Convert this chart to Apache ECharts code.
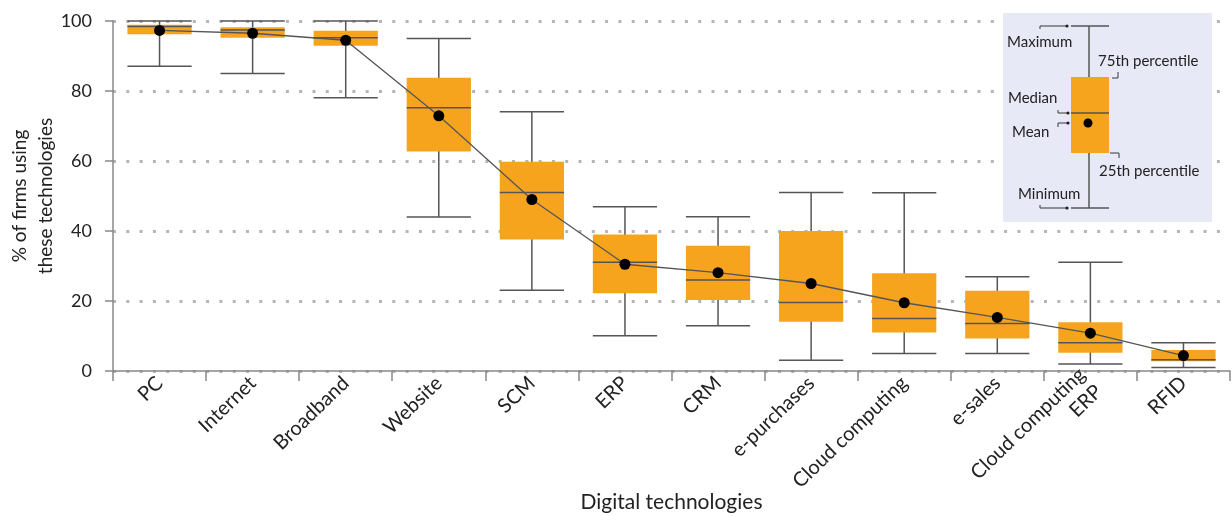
<!DOCTYPE html>
<html>
<head>
<meta charset="utf-8">
<script src="https://cdn.jsdelivr.net/npm/echarts@6/dist/echarts.min.js"></script>
<style>
html,body{margin:0;padding:0;background:#fff;}
#chart{width:1232px;height:516px;}
</style>
</head>
<body>
<div id="chart"></div>
<script>
const categories = ['PC','Internet','Broadband','Website','SCM','ERP','CRM','e-purchases','Cloud computing','e-sales','Cloud computing\nERP','RFID'];
const minVals    = [87.1, 85.0, 78.1, 44.0, 23.1, 10.1, 12.9,  3.1,  5.0,  5.0,  2.0, 1.0];
const q1Vals     = [96.2, 95.2, 92.9, 62.7, 37.6, 22.2, 20.3, 14.1, 11.0,  9.3,  5.2, 2.8];
const medianVals = [98.4, 97.4, 95.2, 75.2, 51.0, 31.1, 26.0, 19.6, 15.0, 13.6,  8.1, 3.2];
const q3Vals     = [98.9, 98.2, 97.2, 83.8, 59.8, 39.0, 35.8, 40.0, 27.9, 22.9, 13.9, 6.0];
const maxVals    = [100, 100, 100, 95.0, 74.1, 46.9, 44.1, 51.0, 50.9, 26.9, 31.1, 8.1];
const meanVals   = [97.3, 96.5, 94.5, 72.9, 49.0, 30.5, 28.1, 25.0, 19.5, 15.3, 10.8, 4.4];
const yTicks = [0, 20, 40, 60, 80, 100];

const ORANGE = '#F6A41E';
const DARK = '#555555';
const FONT = 'Lato';

const boxData = categories.map((c, i) => [i, minVals[i], q1Vals[i], medianVals[i], q3Vals[i], maxVals[i]]);

function renderBox(params, api) {
  const i = api.value(0);
  const pMin = api.coord([i, api.value(1)]);
  const pQ1 = api.coord([i, api.value(2)]);
  const pMed = api.coord([i, api.value(3)]);
  const pQ3 = api.coord([i, api.value(4)]);
  const pMax = api.coord([i, api.value(5)]);
  const cx = pMin[0];
  const w = api.size([1, 0])[0] * 0.69;
  const ls = { stroke: DARK, lineWidth: 1.5 };
  return {
    type: 'group',
    children: [
      { type: 'line', shape: { x1: cx, y1: pMax[1], x2: cx, y2: pMin[1] }, style: ls },
      { type: 'line', shape: { x1: cx - w / 2, y1: pMax[1], x2: cx + w / 2, y2: pMax[1] }, style: ls },
      { type: 'line', shape: { x1: cx - w / 2, y1: pMin[1], x2: cx + w / 2, y2: pMin[1] }, style: ls },
      { type: 'rect', shape: { x: cx - w / 2, y: pQ3[1], width: w, height: pQ1[1] - pQ3[1] }, style: { fill: ORANGE } },
      { type: 'line', shape: { x1: cx - w / 2, y1: pMed[1], x2: cx + w / 2, y2: pMed[1] }, style: ls }
    ]
  };
}

// legend key (illustrative)
const ltxt = (x, y, t) => ({ type: 'text', x: x, y: y, style: { text: t, fill: '#222', font: '15px Lato', verticalAlign: 'middle' }, z: 101 });
const lline = (x1, y1, x2, y2, w) => ({ type: 'line', shape: { x1, y1, x2, y2 }, style: { stroke: DARK, lineWidth: w || 1.2 }, z: 101 });
const ldot = (x, y, r) => ({ type: 'circle', shape: { cx: x, cy: y, r: r }, style: { fill: '#222' }, z: 102 });

const graphic = [
  { type: 'rect', shape: { x: 1003, y: 13, width: 209, height: 209 }, style: { fill: '#E7E9F6' }, z: 100 },
  lline(1089, 26, 1089, 208, 1.5),
  lline(1071, 26, 1109, 26, 1.5),
  lline(1071, 208, 1109, 208, 1.5),
  { type: 'rect', shape: { x: 1071, y: 77, width: 38, height: 76 }, style: { fill: ORANGE }, z: 101 },
  lline(1071, 113, 1109, 113, 1.5),
  { type: 'circle', shape: { cx: 1088, cy: 123, r: 4.5 }, style: { fill: '#000' }, z: 102 },
  lline(1040, 26, 1067, 26), lline(1040, 26, 1040, 29), ldot(1067, 26, 1.6),
  lline(1112, 78, 1118, 78), lline(1118, 72, 1118, 78),
  lline(1058, 110, 1058, 113), lline(1058, 113, 1068, 113), ldot(1068, 113, 1.6),
  lline(1058, 123, 1068, 123), lline(1058, 123, 1058, 127), ldot(1068, 123, 1.6),
  lline(1110, 153, 1119, 153), lline(1119, 153, 1119, 158),
  lline(1040, 208, 1067, 208), lline(1040, 205, 1040, 208), ldot(1067, 208, 1.6),
  ltxt(1007, 42, 'Maximum'),
  ltxt(1098, 61, '75th percentile'),
  ltxt(1008, 98, 'Median'),
  ltxt(1012, 132, 'Mean'),
  ltxt(1099, 171, '25th percentile'),
  ltxt(1018, 194, 'Minimum')
];

const chart = echarts.init(document.getElementById('chart'), null, { renderer: 'canvas' });
chart.setOption({
  animation: false,
  backgroundColor: '#fff',
  textStyle: { fontFamily: FONT },
  grid: { left: 113, right: 2, top: 21, bottom: 145, containLabel: false, outerBoundsMode: 'none' },
  xAxis: {
    type: 'category',
    data: categories,
    boundaryGap: true,
    name: 'Digital technologies',
    nameLocation: 'middle',
    nameGap: 121,
    nameMoveOverlap: false,
    nameTextStyle: { fontSize: 21, color: '#222', fontFamily: FONT },
    axisLine: { lineStyle: { color: '#888', width: 1.5 } },
    axisTick: { show: true, length: 10, lineStyle: { color: '#888', width: 1.5 } },
    axisLabel: { interval: 0, rotate: 44, fontSize: 20, lineHeight: 24, color: '#222', margin: 9, fontFamily: FONT }
  },
  yAxis: {
    type: 'value',
    min: yTicks[0],
    max: yTicks[yTicks.length - 1],
    interval: 20,
    name: '% of firms using\nthese technologies',
    nameLocation: 'middle',
    nameRotate: 90,
    nameGap: 54,
    nameMoveOverlap: false,
    nameTextStyle: { fontSize: 19, color: '#222', fontFamily: FONT, lineHeight: 26 },
    axisLine: { show: true, lineStyle: { color: '#888', width: 1.5 } },
    axisTick: { show: true, length: 8, lineStyle: { color: '#888', width: 1.5 } },
    axisLabel: { fontSize: 18, color: '#222', margin: 21, fontFamily: FONT },
    splitLine: {
      show: true,
      lineStyle: { color: '#b5b5b5', width: 3, type: [3, 10.3] }
    }
  },
  series: [
    {
      type: 'custom',
      renderItem: renderBox,
      data: boxData,
      encode: { x: 0, y: [1, 2, 3, 4, 5] },
      z: 2
    },
    {
      type: 'line',
      data: meanVals,
      symbol: 'circle',
      symbolSize: 11,
      itemStyle: { color: '#000' },
      lineStyle: { color: DARK, width: 1.3 },
      z: 3
    }
  ],
  graphic: graphic
});
</script>
</body>
</html>
